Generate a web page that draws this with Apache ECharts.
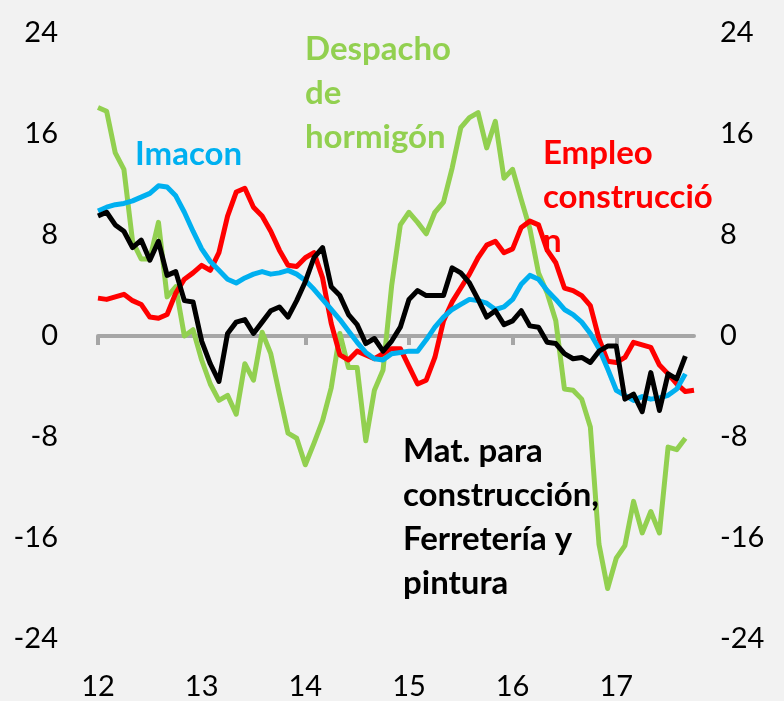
<!DOCTYPE html>
<html>
<head>
<meta charset="utf-8">
<script src="https://cdn.jsdelivr.net/npm/echarts@6/dist/echarts.min.js"></script>
<style>
html,body{margin:0;padding:0;background:#F2F2F2;}
#chart{width:784px;height:701px;}
</style>
</head>
<body>
<div id="chart"></div>
<script>
// Monthly categories Jan 2012 .. Oct 2017
const years = ['12','13','14','15','16','17'];
const months = [];
for (const y of years) { for (let m = 1; m <= 12; m++) { months.push(y + '-' + m); } }
const categories = months.slice(0, 70);

const yTicks = [-24, -16, -8, 0, 8, 16, 24];

const despachoHormigon = [18.1,17.8,14.5,13.2,7.5,6.1,6.1,9.0,3.1,3.9,0.0,0.5,
  -1.9,-3.8,-5.1,-4.7,-6.2,-2.2,-3.5,0.3,-1.4,-4.6,-7.7,-8.1,
  -10.2,-8.5,-6.7,-4.1,0.2,-2.5,-2.5,-8.3,-4.3,-2.7,4.0,8.8,
  9.8,9.0,8.1,9.8,10.6,13.3,16.5,17.3,17.7,14.9,17.0,12.5,
  13.2,10.8,8.5,5.0,3.4,1.2,-4.2,-4.3,-5.0,-7.2,-16.5,-20.0,
  -17.6,-16.6,-13.1,-15.6,-13.9,-15.6,-8.8,-9.0,-8.1];

const empleoConstruccion = [3.0,2.9,3.1,3.3,2.8,2.5,1.5,1.4,1.7,3.4,4.5,5.0,
  5.6,5.2,6.6,9.5,11.4,11.7,10.2,9.5,8.3,6.8,5.6,5.5,
  6.2,6.6,4.6,1.0,-1.5,-1.9,-1.2,-1.5,-1.8,-1.4,-1.0,-1.0,
  -2.4,-3.8,-3.5,-1.7,1.2,2.7,3.8,4.9,6.2,7.2,7.5,6.6,
  6.9,8.6,9.1,8.8,6.8,5.8,3.8,3.6,3.2,2.4,-0.2,-2.0,
  -2.1,-1.7,-0.5,-0.7,-0.9,-2.3,-3.0,-3.8,-4.4,-4.3];

const matConstruccion = [9.5,9.8,8.8,8.3,7.0,7.6,6.0,7.5,4.8,5.1,2.8,2.7,
  -0.4,-2.2,-3.6,0.2,1.1,1.3,0.2,1.1,2.0,2.3,1.5,2.8,
  4.3,6.2,7.0,3.9,3.2,1.7,0.9,-0.6,-0.2,-1.2,-0.4,0.7,
  2.9,3.6,3.2,3.2,3.2,5.4,5.0,4.2,2.9,1.5,2.0,0.9,
  1.2,2.0,0.8,0.7,-0.5,-0.6,-1.4,-1.8,-1.7,-2.1,-1.2,-0.8,
  -0.8,-5.0,-4.6,-6.0,-2.9,-5.9,-3.0,-3.4,-1.6];

const imacon = [9.9,10.2,10.4,10.5,10.7,11.0,11.3,11.9,11.8,11.1,9.8,8.3,
  6.9,5.9,5.2,4.5,4.2,4.6,4.9,5.1,4.9,5.0,5.2,4.9,
  4.4,3.7,2.9,2.1,1.3,0.4,-0.5,-1.3,-1.8,-1.9,-1.4,-1.3,
  -1.2,-1.2,-0.3,0.7,1.5,2.1,2.5,2.9,2.8,2.6,2.1,2.3,
  2.9,4.1,4.8,4.5,3.6,2.9,2.1,1.7,1.1,0.2,-1.0,-2.6,
  -4.3,-4.7,-5.1,-4.8,-5.0,-4.9,-4.7,-4.2,-3.0];

const FONT = 'Lato';
const chart = echarts.init(document.getElementById('chart'));

const yAxisBase = {
  type: 'value', min: -24, max: 24, interval: 8,
  splitLine: {show: false}, axisLine: {show: false}, axisTick: {show: false},
  axisLabel: {fontFamily: FONT, fontSize: 29, color: '#000'}
};

function lineSeries(name, data, color, z) {
  return {
    name, type: 'line', data, xAxisIndex: 0, yAxisIndex: 0,
    showSymbol: false, symbol: 'none', z,
    lineStyle: {color, width: 5, join: 'round'},
    itemStyle: {color}
  };
}

function note(lines, x, y, color) {
  return {
    type: 'text', left: x, top: y, z: 100,
    style: {text: lines.join('\n'), fill: color, font: 'bold 33px ' + FONT, lineHeight: 44}
  };
}

chart.setOption({
  backgroundColor: '#F2F2F2',
  animation: false,
  grid: {left: 98, right: 90, top: 33, bottom: 60},
  xAxis: [
    {
      type: 'category', data: categories, boundaryGap: false, position: 'bottom',
      axisLine: {onZero: true, lineStyle: {color: '#A6A6A6', width: 4}},
      axisTick: {show: true, interval: 11, length: 9, lineStyle: {color: '#A6A6A6', width: 4}},
      axisLabel: {show: false}, splitLine: {show: false}
    },
    {
      type: 'category', data: categories, boundaryGap: false, position: 'bottom',
      axisLine: {show: false, onZero: false}, axisTick: {show: false}, splitLine: {show: false},
      axisLabel: {
        interval: 11, margin: 33, fontFamily: FONT, fontSize: 29, color: '#000',
        formatter: v => v.split('-')[0]
      }
    }
  ],
  yAxis: [
    Object.assign({}, yAxisBase, {position: 'left', axisLabel: Object.assign({}, yAxisBase.axisLabel, {margin: 40})}),
    Object.assign({}, yAxisBase, {position: 'right', axisLabel: Object.assign({}, yAxisBase.axisLabel, {margin: 26})})
  ],
  series: [
    lineSeries('Despacho de hormigón', despachoHormigon, '#92D050', 2),
    lineSeries('Empleo construcción', empleoConstruccion, '#FF0000', 3),
    lineSeries('Imacon', imacon, '#00B0F0', 4),
    lineSeries('Mat. para construcción, Ferretería y pintura', matConstruccion, '#000000', 5)
  ],
  graphic: [
    note(['Despacho', 'de', 'hormigón'], 305, 27, '#92D050'),
    note(['Imacon'], 135, 132, '#00B0F0'),
    note(['Empleo', 'construcció', 'n'], 543, 131, '#FF0000'),
    note(['Mat. para', 'construcción,', 'Ferretería y', 'pintura'], 403, 429, '#000000')
  ]
});
</script>
</body>
</html>
